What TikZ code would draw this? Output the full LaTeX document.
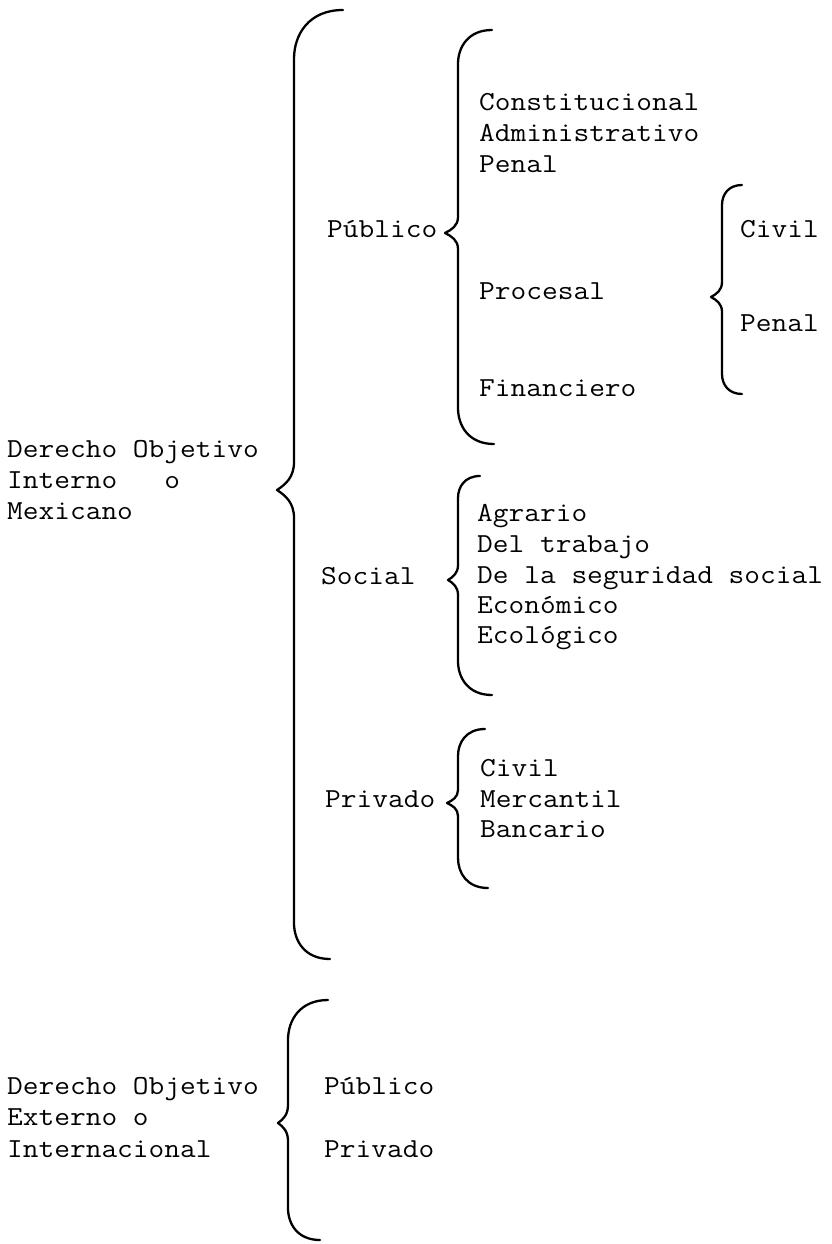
\documentclass[tikz,border=0pt]{standalone}
\usepackage{fontspec}
\usepackage{graphicx}
\newcommand{\sx}[1]{\scalebox{1.11}[1]{#1}}
\tikzset{
  lbl/.style={inner sep=0pt, anchor=mid west, font=\fontsize{27.5}{32}\ttfamily},
  bracestyle/.style={line width=2.3pt, line cap=round, line join=round}
}
% #1 top end x, #2 top end y, #3 vertical x, #4 tip x, #5 tip y, #6 bottom end x, #7 bottom end y, #8 tip half height
\newcommand{\curlyb}[8]{%
  \draw[bracestyle] (#1,#2) .. controls ({#3+0.3*(#1-#3)},{#2}) and (#3,{#2+0.5*(#1-#3)}) .. (#3,{#2+1.0*(#1-#3)})
    -- (#3,{#5-#8}) .. controls (#3,{#5-0.45*#8}) and ({0.5*(#3+#4)},{#5-0.2*#8}) .. (#4,#5)
    .. controls ({0.5*(#3+#4)},{#5+0.2*#8}) and (#3,{#5+0.45*#8}) .. (#3,{#5+#8})
    -- (#3,{#7-1.0*(#6-#3)}) .. controls (#3,{#7-0.5*(#6-#3)}) and ({#3+0.3*(#6-#3)},{#7}) .. (#6,#7);}
\begin{document}
\begin{tikzpicture}[x=1pt,y=-1pt]
\useasboundingbox (0,0) rectangle (831,1244);
% braces
\curlyb{343}{10}{294}{277}{490}{330}{959}{28}
\curlyb{492}{30}{458}{445}{233}{494}{444}{16}
\curlyb{742}{185}{722}{711}{297}{742}{394}{15}
\curlyb{480}{476}{458}{448}{580}{492}{695}{15}
\curlyb{485}{729}{458}{447}{803}{488}{888}{13}
\curlyb{328}{1000}{288}{278}{1123}{320}{1240}{18}
% left texts
\node[lbl] (int1) at (7,455) {\sx{Derecho Objetivo}};
\node[lbl] (int2) at (7,486) {\sx{Interno\ \ \ o}};
\node[lbl] (int3) at (7,517) {\sx{Mexicano}};
\node[lbl] (ext1) at (7,1092) {\sx{Derecho Objetivo}};
\node[lbl] (ext2) at (7,1123) {\sx{Externo o}};
\node[lbl] (ext3) at (7,1155) {\sx{Internacional}};
% second level
\node[lbl] (pub) at (327,235) {\sx{Público}};
\node[lbl] (soc) at (321,582) {\sx{Social}};
\node[lbl] (priv) at (325,805) {\sx{Privado}};
\node[lbl] (epub) at (324,1092) {\sx{Público}};
\node[lbl] (epriv) at (324,1155) {\sx{Privado}};
% publico list
\node[lbl] (const) at (479,108) {\sx{Constitucional}};
\node[lbl] (admin) at (479,139) {\sx{Administrativo}};
\node[lbl] (penal) at (479,170) {\sx{Penal}};
\node[lbl] (proc) at (479,297) {\sx{Procesal}};
\node[lbl] (fin) at (479,394) {\sx{Financiero}};
\node[lbl] (pcivil) at (740,235) {\sx{Civil}};
\node[lbl] (ppenal) at (740,329) {\sx{Penal}};
% social list
\node[lbl] (agr) at (477,519) {\sx{Agrario}};
\node[lbl] (trab) at (477,550) {\sx{Del trabajo}};
\node[lbl] (seg) at (477,581) {\sx{De la seguridad social}};
\node[lbl] (eco) at (477,611) {\sx{Económico}};
\node[lbl] (ecol) at (477,641) {\sx{Ecológico}};
% privado list
\node[lbl] (civ) at (480,774) {\sx{Civil}};
\node[lbl] (merc) at (480,805) {\sx{Mercantil}};
\node[lbl] (banc) at (480,835) {\sx{Bancario}};
\end{tikzpicture}
\end{document}
